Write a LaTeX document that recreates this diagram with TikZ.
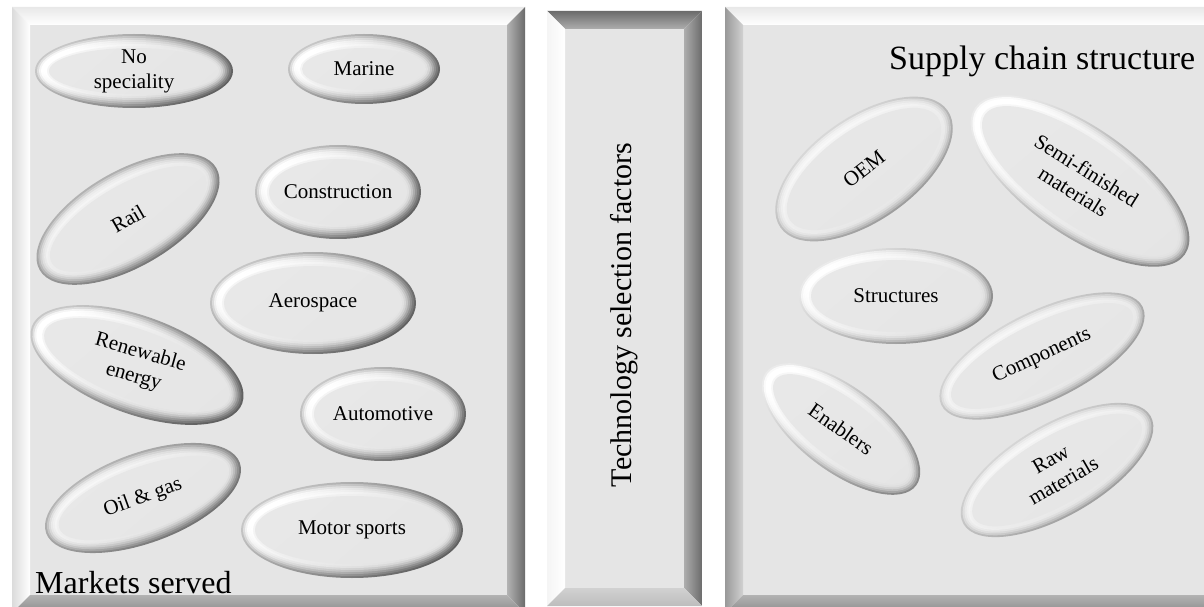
\documentclass[tikz,border=0pt]{standalone}
\usepackage{fontspec}
\setmainfont{Liberation Serif}
\begin{document}
% ring sets for the bevelled ellipses: inset / upper-left colour / lower-right colour
\def\darkrings{0/black!22/black!62, 2/black!12/black!54, 4/black!4/black!45, 6/white/black!35, 8/white/black!25, 10/white/black!17, 12/black!4/black!12, 14/black!9/black!10}
\def\lightrings{0/black!8/black!46, 2/black!2/black!35, 4/white/black!26, 6/white/black!18, 8/white/black!13, 10/black!3/black!11, 12/black!9/black!10}
% #1 ring set, #2 name, #3 x, #4 y, #5 angle, #6 x radius, #7 y radius, #8 label angle, #9 label
\newcommand\pill[9]{%
  \foreach \d/\tc/\bc in #1 {
    \shade[top color=\tc, bottom color=\bc, shading angle=40]
      (#3,#4) ellipse [x radius=#6-\d, y radius=#7-\d, rotate=#5];
  }
  \node[pilltext, rotate=#8] (#2) at (#3,#4) {#9};
}
% #1 left, #2 right, #3 bottom, #4 top, #5..#8 shading of top, left, right, bottom bevels
\newcommand\panel[8]{%
  \def\w{18}
  \fill[black!10] (#1+\w,#3+\w) rectangle (#2-\w,#4-\w);
  \shade[#5] (#1,#4) -- (#2,#4) -- (#2-\w,#4-\w) -- (#1+\w,#4-\w) -- cycle;
  \shade[#6] (#1,#4) -- (#1+\w,#4-\w) -- (#1+\w,#3+\w) -- (#1,#3) -- cycle;
  \shade[#7] (#2,#4) -- (#2,#3) -- (#2-\w,#3+\w) -- (#2-\w,#4-\w) -- cycle;
  \shade[#8] (#1,#3) -- (#2,#3) -- (#2-\w,#3+\w) -- (#1+\w,#3+\w) -- cycle;
}
\begin{tikzpicture}[x=1pt,y=1pt,
  pilltext/.style={font=\fontsize{21}{25}\selectfont, align=center, inner sep=0pt},
  heading/.style={font=\fontsize{32}{36}\selectfont, inner sep=0pt}]
\useasboundingbox (0,0) rectangle (1204,606);
\begin{scope}
  \clip (0,0) rectangle (1204,606);
  % markets panel
  \panel{12}{525}{-7}{599}
    {top color=black!9, bottom color=white}
    {left color=black!14, right color=white}
    {left color=black!30, right color=black!58}
    {top color=black!30, bottom color=black!45}
  % technology panel
  \panel{547}{702}{0}{595}
    {top color=black!58, bottom color=black!32}
    {left color=black!4, right color=white}
    {left color=black!32, right color=black!58}
    {top color=black!18, bottom color=black!26}
  % supply chain panel
  \panel{725}{1240}{-7}{599}
    {top color=black!9, bottom color=white}
    {left color=black!40, right color=black!18}
    {left color=black!30, right color=black!58}
    {top color=black!30, bottom color=black!45}
\end{scope}

% markets served
\pill{\darkrings}{nospec}{134}{535}{0}{99}{37}{0}{No\\speciality}
\pill{\darkrings}{marine}{364}{537}{0}{76}{35}{0}{Marine}
\pill{\darkrings}{constr}{338}{414}{0}{83}{47}{0}{Construction}
\pill{\darkrings}{rail}{128}{387}{30}{102}{48}{30}{Rail}
\pill{\darkrings}{aero}{313}{303}{0}{103}{51}{0}{Aerospace}
\pill{\darkrings}{renew}{137}{241}{-20}{112}{49}{-16}{Renewable\\energy}
\pill{\darkrings}{auto}{383}{192}{0}{83}{47}{0}{Automotive}
\pill{\darkrings}{oil}{143}{108}{20}{103}{45}{20}{Oil \& gas}
\pill{\darkrings}{motor}{352}{76}{0}{111}{48}{0}{Motor sports}

% supply chain structure
\pill{\lightrings}{oem}{864}{437}{35}{102}{52}{38}{OEM}
\pill{\lightrings}{semi}{1080}{425}{-35}{128}{54}{-32}{Semi-finished\\materials}
\pill{\lightrings}{struct}{896}{310}{0}{97}{48}{0}{Structures}
\pill{\lightrings}{comp}{1042}{250}{26}{112}{45}{25}{Components}
\pill{\lightrings}{raw}{1057}{136}{30}{108}{46}{30}{Raw\\materials}
\pill{\lightrings}{enab}{841}{177}{-37}{94}{42}{-35}{Enablers}

\node[heading, anchor=base west] (ms) at (35,13) {Markets served};
\node[heading, font=\fontsize{34}{40}\selectfont, anchor=base west] (scs) at (889,536) {Supply chain structure};
\node[heading, font=\fontsize{30}{36}\selectfont, rotate=90] (tsf) at (624,291) {Technology selection factors};
\end{tikzpicture}
\end{document}
